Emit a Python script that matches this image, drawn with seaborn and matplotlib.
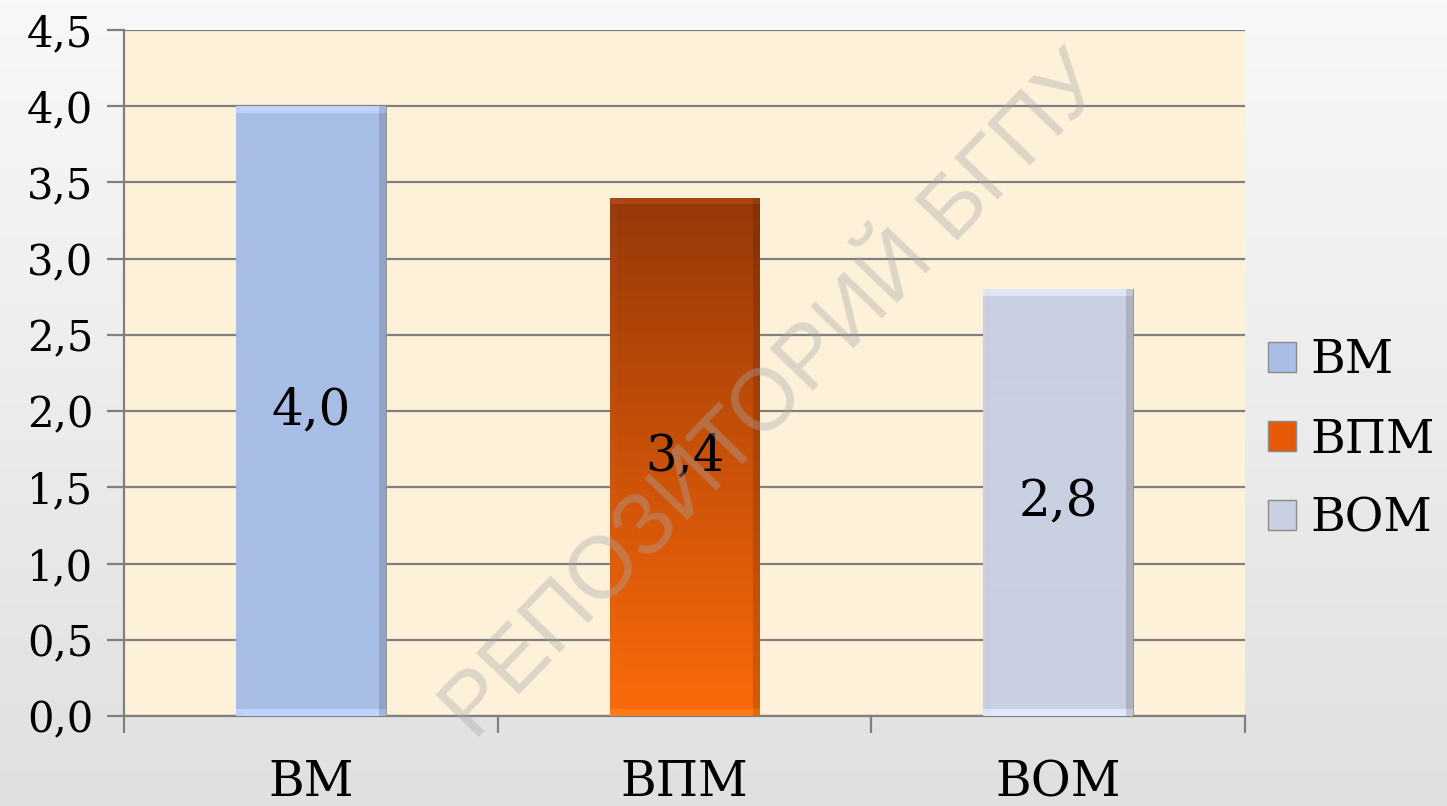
import numpy as np
import pandas as pd
import matplotlib
matplotlib.use('Agg')
import matplotlib.pyplot as plt
import seaborn as sns
from matplotlib.patches import Patch
from matplotlib.colors import to_rgb

# data
categories = ['ВМ', 'ВПМ', 'ВОМ']
values = [4.0, 3.4, 2.8]
bar_top_colors = ['#a9bee6', '#973808', '#c9d0e1']
bar_bottom_colors = ['#a9bee6', '#fb6a0a', '#c9d0e1']
legend_colors = ['#a9bee6', '#e85a08', '#c9d0e1']
y_ticks = [0.0, 0.5, 1.0, 1.5, 2.0, 2.5, 3.0, 3.5, 4.0, 4.5]
watermark = 'РЕПОЗИТОРИЙ БГПУ'

df = pd.DataFrame({'cat': categories, 'val': values})

sns.set_style('white')
plt.rcParams['font.family'] = ['DejaVu Serif']
plt.rcParams['text.color'] = 'black'
plt.rcParams['xtick.labelcolor'] = 'black'
plt.rcParams['ytick.labelcolor'] = 'black'

fig = plt.figure(figsize=(14.47, 8.06), dpi=100)

# grey gradient background of the slide
bg = fig.add_axes([0, 0, 1, 1], zorder=-10)
grad = np.linspace(0, 1, 256).reshape(-1, 1)
top_c, bot_c = np.array(to_rgb('#f8f8f8')), np.array(to_rgb('#e0e0e0'))
bg_img = top_c + (bot_c - top_c) * grad[:, :, None]
bg.imshow(bg_img, aspect='auto', extent=[0, 1, 0, 1])
bg.axis('off')

ax = fig.add_axes([124 / 1447, 1 - 716 / 806, (1245 - 124) / 1447, (716 - 30) / 806])
ax.set_facecolor('#fdf1d9')

sns.barplot(data=df, x='cat', y='val', hue='cat', palette=legend_colors,
            width=0.4, legend=False, ax=ax, zorder=3)

# bevelled / gradient fill for each bar
for patch, c_top, c_bot in zip(ax.patches, bar_top_colors, bar_bottom_colors):
    x, y = patch.get_x(), patch.get_y()
    w, h = patch.get_width(), patch.get_height()
    nx = 150
    ny = max(int(h * 152), 10)
    t = np.linspace(0, 1, ny)[:, None, None]
    ct, cb = np.array(to_rgb(c_top)), np.array(to_rgb(c_bot))
    img = ct + (cb - ct) * t
    img = np.repeat(img, nx, axis=1)
    b = 7
    img[:b, :, :] = np.clip(img[:b, :, :] * 1.06 + 0.04, 0, 1)
    img[-b:, :, :] = np.clip(img[-b:, :, :] * 1.05 + 0.05, 0, 1)
    img[:, :b, :] = np.clip(img[:, :b, :] * 0.97 + 0.02, 0, 1)
    img[:, -b:, :] = img[:, -b:, :] * 0.86
    im = ax.imshow(img, extent=[x, x + w, y, y + h], aspect='auto',
                   zorder=3.5, interpolation='bilinear')
    im.set_clip_path(patch)
    patch.set_edgecolor('#8a8a8a')
    patch.set_linewidth(0.6)

# value labels in the middle of each bar
for patch, v in zip(ax.patches, values):
    ax.text(patch.get_x() + patch.get_width() / 2, patch.get_height() / 2,
            f'{v:.1f}'.replace('.', ','), ha='center', va='center',
            fontsize=36, color='black', zorder=5)

ax.set_xlim(-0.5, 2.5)
ax.set_ylim(0, 4.5)
ax.set_yticks(y_ticks)
ax.set_yticklabels([f'{t:.1f}'.replace('.', ',') for t in y_ticks], fontsize=30)
ax.yaxis.grid(True, color='#7f7f7f', linewidth=1.6, zorder=1)
ax.set_axisbelow(True)
ax.tick_params(axis='y', length=12, width=1.6, color='#7f7f7f', pad=10, left=True)

ax.set_xticks(range(len(categories)))
ax.set_xticklabels(categories, fontsize=35)
ax.tick_params(axis='x', which='major', length=0, pad=31)
ax.set_xticks([-0.5, 0.5, 1.5, 2.5], minor=True)
ax.tick_params(axis='x', which='minor', length=12, width=1.6, color='#7f7f7f', bottom=True)
ax.set_xlabel('')
ax.set_ylabel('')

for side in ['top', 'right']:
    ax.spines[side].set_visible(False)
for side in ['left', 'bottom']:
    ax.spines[side].set_color('#7f7f7f')
    ax.spines[side].set_linewidth(1.6)

# legend
handles = [Patch(facecolor=c, edgecolor='#8a8a8a', linewidth=1) for c in legend_colors]
fig.legend(handles, categories, loc='center left',
           bbox_to_anchor=(1268 / 1447, 1 - 440 / 806), frameon=False,
           fontsize=34, handlelength=0.6, handleheight=0.6,
           handletextpad=0.3, labelspacing=0.72, borderaxespad=0, borderpad=0)

# watermark
fig.text(775 / 1447, 1 - 397 / 806, watermark, rotation=46, rotation_mode='anchor',
         ha='center', va='center', fontsize=63, family=['Liberation Sans', 'DejaVu Sans'],
         color='#a8a8a8', alpha=0.38, zorder=20)

fig.savefig('out.png', dpi=100)
print('saved')
